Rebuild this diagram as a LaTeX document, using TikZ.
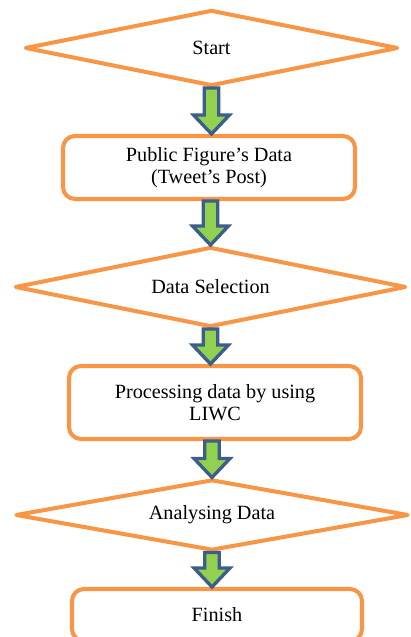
\documentclass[tikz,border=0pt]{standalone}
\usepackage{fontspec}
\setmainfont{Liberation Serif}
\usetikzlibrary{shapes.geometric,calc}
\definecolor{boxorange}{HTML}{F79646}
\definecolor{arrowblue}{HTML}{3B5E8C}
\definecolor{arrowgreen}{HTML}{92D050}

\begin{document}
\begin{tikzpicture} [line width=2.3pt, font=\fontsize{11.5}{12.5}\selectfont,
  decision/.style={diamond, draw=boxorange, line join=round, inner sep=0pt},
  process/.style={rectangle, rounded corners=0.24cm, draw=boxorange, align=center, inner sep=0pt},
  flow/.style={draw=arrowblue, fill=arrowgreen, line width=1.9pt, line join=miter,
    to path={($(\tikztostart)+(-0.146,0)$) -- ($(\tikztotarget)+(-0.146,0.38)$)
      -- ($(\tikztotarget)+(-0.36,0.38)$) -- (\tikztotarget)
      -- ($(\tikztotarget)+(0.36,0.38)$) -- ($(\tikztotarget)+(0.146,0.38)$)
      -- ($(\tikztostart)+(0.146,0)$) -- cycle}}]

 \useasboundingbox (0,0) rectangle (8.2,12.74);
 \clip (0,0) rectangle (8.2,12.74);

 \node[decision, minimum width=7.46cm, minimum height=1.52cm, aspect=4.7] (start) at (4.23,11.78) {Start};
 \node[process, minimum width=5.84cm, minimum height=1.26cm] (tweets) at (4.18,9.39) {Public Figure’s Data\\(Tweet’s Post)};
 \node[decision, minimum width=7.82cm, minimum height=1.6cm, aspect=4.7] (select) at (4.21,7.0) {Data Selection};
 \node[process, minimum width=5.84cm, minimum height=1.46cm] (liwc) at (4.30,4.69) {Processing data by using\\LIWC};
 \node[decision, minimum width=7.86cm, minimum height=1.42cm, aspect=5.3] (analyse) at (4.24,2.44) {Analysing Data};
 \node[process, minimum width=5.8cm, minimum height=1.04cm] (finish) at (4.34,0.44) {Finish};

 % block arrows between the steps
 \draw[flow] (start.south) to (start.south |- tweets.north);
 \draw[flow] (tweets.south -| select.north) to (select.north);
 \draw[flow] (select.south) to (select.south |- liwc.north);
 \draw[flow] (liwc.south -| analyse.north) to (analyse.north);
 \draw[flow] (analyse.south) to (analyse.south |- finish.north);

\end{tikzpicture}
\end{document}
